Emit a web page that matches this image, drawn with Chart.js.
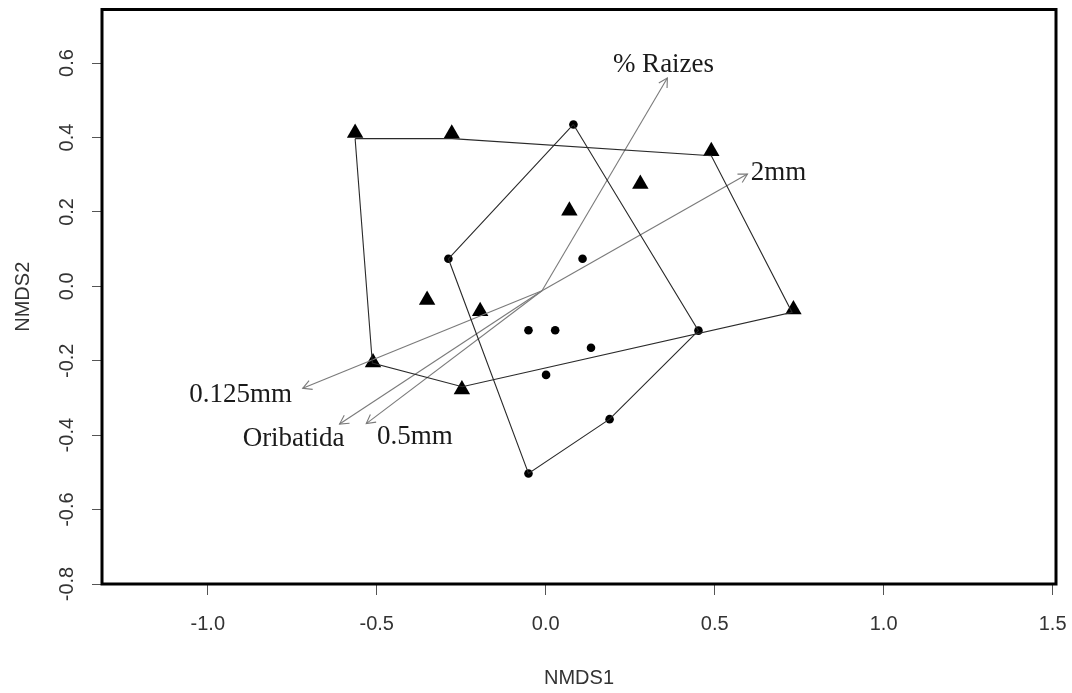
<!DOCTYPE html>
<html>
<head>
<meta charset="utf-8">
<script src="https://cdn.jsdelivr.net/npm/chart.js@4.4.1/dist/chart.umd.min.js"></script>
<style>
html,body{margin:0;padding:0;background:#fff;}
#wrap{width:1072px;height:693px;}
</style>
</head>
<body>
<div id="wrap"><canvas id="c" width="1072" height="693"></canvas></div>
<script>
// ---- data ----
const triX = [-0.564, -0.278, 0.490, 0.733, -0.248, -0.511, -0.351, -0.194, 0.070, 0.280];
const triY = [ 0.412,  0.410, 0.363, -0.062, -0.277, -0.205, -0.037, -0.067, 0.203, 0.275];

const circX = [0.082, -0.288, 0.109, -0.051, 0.028, 0.134, 0.001, 0.189, -0.051, 0.452];
const circY = [0.435,  0.074, 0.074, -0.118, -0.118, -0.165, -0.238, -0.357, -0.503, -0.119];

// hull outlines (as drawn)
const triHullX = [-0.564, -0.277, 0.490, 0.729, -0.247, -0.513, -0.564];
const triHullY = [ 0.397,  0.397, 0.351, -0.070, -0.270, -0.206,  0.397];
const circHullIdx = [0, 1, 8, 7, 9, 0];

// fitted vectors
const arrowNames = ['% Raizes', '2mm', '0.125mm', 'Oribatida', '0.5mm'];
const arrowStartX = -0.011, arrowStartY = -0.012;
const arrowX = [0.360, 0.597, -0.719, -0.610, -0.531];
const arrowY = [0.560, 0.302, -0.274, -0.370, -0.369];
const labelX = [0.3485, 0.689, -0.903, -0.746, -0.387];
const labelY = [0.595, 0.306, -0.291, -0.410, -0.406];

const xTicks = [-1.0, -0.5, 0.0, 0.5, 1.0, 1.5];
const yTicks = [-0.8, -0.6, -0.4, -0.2, 0.0, 0.2, 0.4, 0.6];
const xTitle = 'NMDS1', yTitle = 'NMDS2';

// ---- build datasets ----
const toPts = (xs, ys) => xs.map((x, i) => ({x: x, y: ys[i]}));
const datasets = [];
datasets.push({
  label: 'hullTri', data: toPts(triHullX, triHullY), showLine: true,
  borderColor: '#2a2a2a', borderWidth: 1.1, pointRadius: 0, fill: false, tension: 0
});
datasets.push({
  label: 'hullCirc', data: circHullIdx.map(i => ({x: circX[i], y: circY[i]})), showLine: true,
  borderColor: '#2a2a2a', borderWidth: 1.1, pointRadius: 0, fill: false, tension: 0
});
arrowNames.forEach((n, i) => {
  datasets.push({
    label: 'arrow ' + n, data: [{x: arrowStartX, y: arrowStartY}, {x: arrowX[i], y: arrowY[i]}],
    showLine: true, borderColor: '#7a7a7a', borderWidth: 1.1, pointRadius: 0, fill: false, tension: 0
  });
});
datasets.push({
  label: 'triangles', data: toPts(triX, triY), showLine: false,
  pointStyle: 'triangle', pointRadius: 9.5, backgroundColor: '#000', borderColor: '#000', borderWidth: 0
});
datasets.push({
  label: 'circles', data: toPts(circX, circY), showLine: false,
  pointStyle: 'circle', pointRadius: 4.3, backgroundColor: '#000', borderColor: '#000', borderWidth: 0
});

const overlay = {
  id: 'overlay',
  afterDatasetsDraw(chart) {
    const ctx = chart.ctx, xs = chart.scales.x, ys = chart.scales.y;
    // arrowheads
    ctx.save();
    ctx.strokeStyle = '#7a7a7a';
    ctx.lineWidth = 1.1;
    const sx = xs.getPixelForValue(arrowStartX), sy = ys.getPixelForValue(arrowStartY);
    arrowNames.forEach((n, i) => {
      const ex = xs.getPixelForValue(arrowX[i]), ey = ys.getPixelForValue(arrowY[i]);
      const a = Math.atan2(ey - sy, ex - sx);
      const L = 10, w = 0.5;
      ctx.beginPath();
      ctx.moveTo(ex - L * Math.cos(a - w), ey - L * Math.sin(a - w));
      ctx.lineTo(ex, ey);
      ctx.lineTo(ex - L * Math.cos(a + w), ey - L * Math.sin(a + w));
      ctx.stroke();
    });
    // labels
    ctx.fillStyle = '#1a1a1a';
    ctx.font = '27px "Liberation Serif", "Times New Roman", serif';
    ctx.textAlign = 'center';
    ctx.textBaseline = 'middle';
    arrowNames.forEach((n, i) => {
      ctx.fillText(n, xs.getPixelForValue(labelX[i]), ys.getPixelForValue(labelY[i]));
    });
    ctx.restore();
  },
  afterDraw(chart) {
    const ctx = chart.ctx, a = chart.chartArea, ys = chart.scales.y;
    ctx.save();
    // frame
    ctx.strokeStyle = '#000';
    ctx.lineWidth = 3;
    ctx.strokeRect(a.left, a.top, a.right - a.left, a.bottom - a.top);
    // rotated y tick labels
    ctx.fillStyle = '#333';
    ctx.font = '20px "Liberation Sans", Arial, sans-serif';
    ctx.textAlign = 'center';
    ctx.textBaseline = 'middle';
    yTicks.forEach(v => {
      const py = ys.getPixelForValue(v);
      ctx.save();
      ctx.translate(67, py);
      ctx.rotate(-Math.PI / 2);
      ctx.fillText(v.toFixed(1), 0, 0);
      ctx.restore();
    });
    // axis titles
    ctx.fillText(xTitle, (a.left + a.right) / 2, 678);
    ctx.save();
    ctx.translate(23, (a.top + a.bottom) / 2);
    ctx.rotate(-Math.PI / 2);
    ctx.fillText(yTitle, 0, 0);
    ctx.restore();
    ctx.restore();
  }
};

new Chart(document.getElementById('c'), {
  type: 'scatter',
  data: { datasets: datasets },
  options: {
    responsive: false,
    devicePixelRatio: 1,
    animation: false,
    layout: { padding: { left: 0, right: 16, top: 7, bottom: 0 } },
    plugins: { legend: { display: false }, tooltip: { enabled: false } },
    scales: {
      x: {
        type: 'linear', min: -1.313, max: 1.51,
        afterBuildTicks: s => { s.ticks = xTicks.map(v => ({value: v})); },
        afterFit: s => { s.height = 109; s.paddingLeft = 0; s.paddingRight = 0; },
        grid: { display: true, drawOnChartArea: false, drawTicks: true, tickLength: 11, color: '#555', lineWidth: 1 },
        border: { display: false },
        ticks: {
          padding: 17, color: '#333', maxRotation: 0, autoSkip: false,
          font: { family: '"Liberation Sans", Arial, sans-serif', size: 20 },
          callback: v => Number(v).toFixed(1)
        }
      },
      y: {
        type: 'linear', min: -0.8, max: 0.744,
        afterBuildTicks: s => { s.ticks = yTicks.map(v => ({value: v})); },
        afterFit: s => { s.width = 102; s.paddingTop = 0; s.paddingBottom = 0; },
        grid: { display: true, drawOnChartArea: false, drawTicks: true, tickLength: 10, color: '#555', lineWidth: 1 },
        border: { display: false },
        ticks: { display: false }
      }
    }
  },
  plugins: [overlay]
});
</script>
</body>
</html>
